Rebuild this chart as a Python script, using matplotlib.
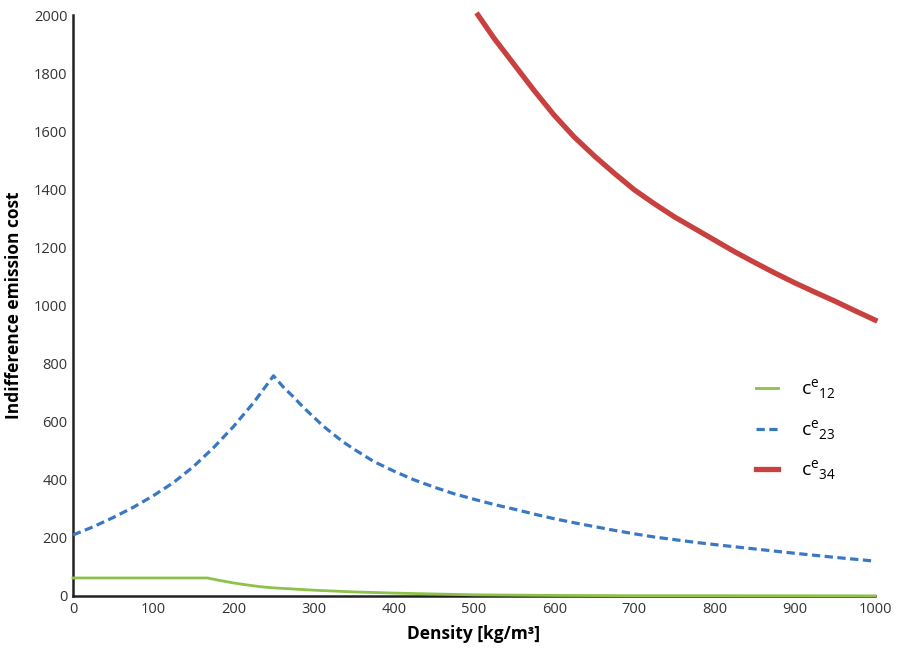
import matplotlib.pyplot as plt
import numpy as np

plt.rcParams['font.family'] = ['Open Sans', 'DejaVu Sans']
plt.rcParams['mathtext.fontset'] = 'custom'
plt.rcParams['mathtext.rm'] = 'Open Sans'

# c^e_12 (green)
x12 = [0, 50, 100, 168, 180, 190, 200, 212, 225, 237, 250, 275, 300, 325, 350,
       375, 400, 450, 500, 550, 600, 700, 800, 1000]
y12 = [62, 62, 62, 62, 55, 50, 45, 40, 35, 31, 28, 24, 20, 17, 14,
       12, 10, 7, 4, 3, 2, 1, 1, 0.5]

# c^e_23 (blue, dashed)
x23 = [0, 25, 50, 75, 100, 125, 150, 175, 200, 225, 250,
       262, 275, 287, 300, 312, 325, 337, 350, 375, 400, 425, 450, 475, 500,
       525, 550, 575, 600, 625, 650, 675, 700, 725, 750, 775, 800,
       850, 900, 950, 1000]
y23 = [210, 238, 270, 305, 345, 390, 445, 510, 583, 665, 758,
       720, 685, 650, 616, 585, 556, 530, 506, 463, 430, 400, 375, 352, 333,
       315, 299, 282, 266, 252, 239, 226, 214, 203, 194, 185, 177,
       162, 147, 133, 120]

# c^e_34 (red)
x34 = [505, 525, 550, 575, 600, 625, 650, 675, 700, 725, 750, 775, 800,
       825, 850, 875, 900, 925, 950, 975, 1000]
y34 = [2000, 1920, 1830, 1740, 1655, 1580, 1515, 1455, 1398, 1350, 1305, 1265, 1225,
       1185, 1148, 1112, 1078, 1046, 1015, 982, 950]

labels = ['c$^\\mathregular{e}$$_\\mathregular{12}$',
          'c$^\\mathregular{e}$$_\\mathregular{23}$',
          'c$^\\mathregular{e}$$_\\mathregular{34}$']

fig = plt.figure(figsize=(8.99, 6.53), dpi=100)
ax = fig.add_axes([0.0812, 0.0873, 0.8921, 0.8897])

ax.plot(x12, y12, color='#8DC149', lw=2.0, label=labels[0], zorder=3, clip_on=False)
ax.plot(x23, y23, color='#3B78C4', lw=2.3, dashes=(2.6, 1.4), label=labels[1], zorder=3, clip_on=False)
ax.plot(x34, y34, color='#C8413F', lw=3.8, label=labels[2], zorder=3, clip_on=False)

ax.set_xlim(0, 1000)
ax.set_ylim(0, 2000)
ax.set_xticks(np.arange(0, 1001, 100))
ax.set_yticks(np.arange(0, 2001, 200))
ax.tick_params(length=0, labelsize=10.5, colors='#333333', pad=4)
for s in ['top', 'right']:
    ax.spines[s].set_visible(False)
for s in ['left', 'bottom']:
    ax.spines[s].set_linewidth(1.8)
    ax.spines[s].set_color('#222222')

ax.set_xlabel('Density [kg/m³]', fontsize=12.5, fontweight='bold', labelpad=6)
ax.set_ylabel('Indifference emission cost', fontsize=12.5, fontweight='bold', labelpad=8)

ax.legend(frameon=False, loc='center left', bbox_to_anchor=(0.83, 0.286),
          fontsize=14, handlelength=1.1, handletextpad=1.2, labelspacing=0.85)

fig.savefig('out.png', dpi=100)
